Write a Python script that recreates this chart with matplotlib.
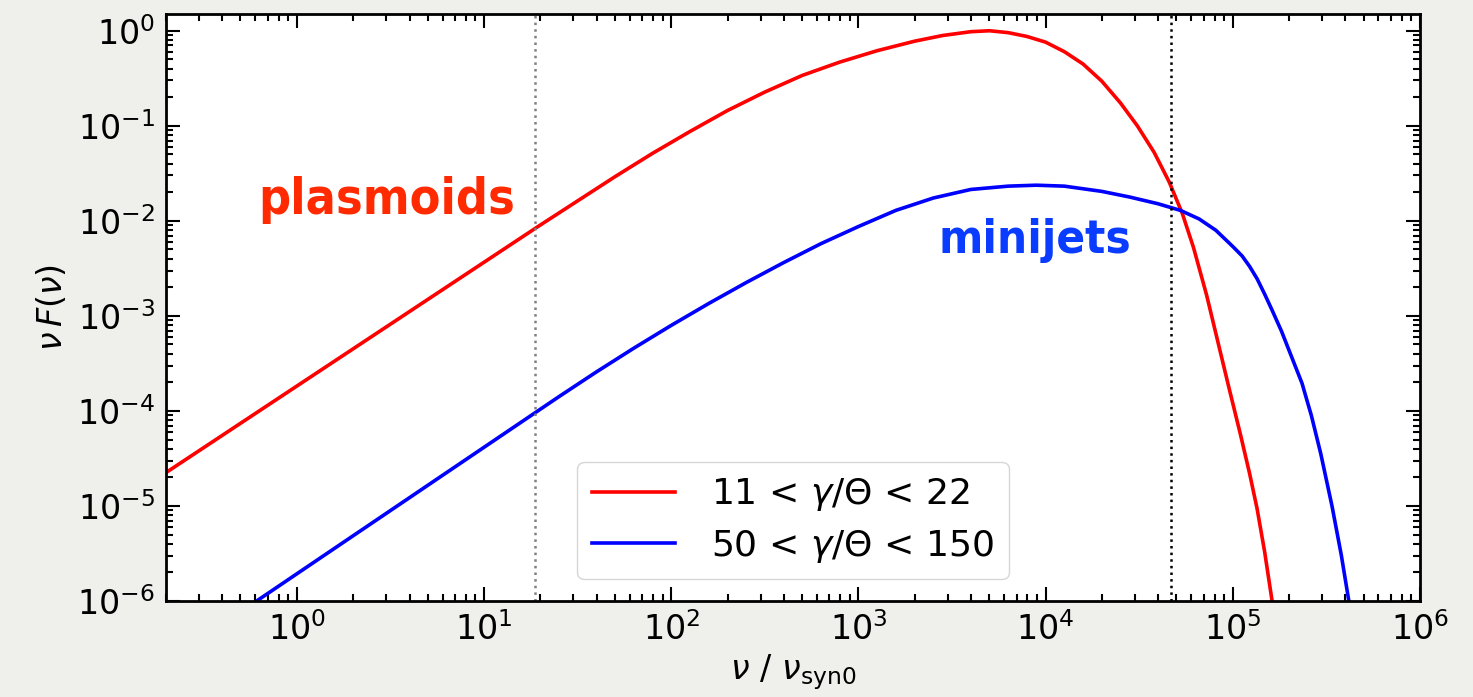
#!/usr/bin/env python
# coding: utf-8

r"""Synchrotron spectra of plasmoid- and minijet-dominated particles"""

import numpy as np
import matplotlib.pyplot as plt

# log10(nu / nu_syn0) and log10(nu F_nu) for the two populations
red_lognu = [-0.70, 1.30, 1.50, 1.70, 1.90, 2.10, 2.30, 2.50, 2.70, 2.90,
             3.10, 3.30, 3.45, 3.60, 3.70, 3.80, 3.90, 4.00, 4.10, 4.20,
             4.30, 4.40, 4.49, 4.58, 4.66, 4.73, 4.79, 4.86, 4.92, 4.98,
             5.04, 5.09, 5.13, 5.17, 5.21]
red_logf = [-4.65, -2.045, -1.79, -1.535, -1.29, -1.06, -0.84, -0.645, -0.47,
            -0.33, -0.21, -0.11, -0.05, -0.01, 0.0, -0.02, -0.06, -0.12,
            -0.22, -0.35, -0.53, -0.76, -1.00, -1.28, -1.59, -1.92, -2.28,
            -2.78, -3.27, -3.76, -4.24, -4.66, -5.03, -5.48, -6.0]

blue_lognu = [-0.215, 1.40, 1.60, 1.80, 2.00, 2.20, 2.40, 2.60, 2.80, 3.00,
              3.20, 3.40, 3.60, 3.80, 3.95, 4.10, 4.30, 4.45, 4.60, 4.72,
              4.82, 4.91, 5.00, 5.05, 5.09, 5.13, 5.17, 5.21, 5.26, 5.31,
              5.37, 5.42, 5.47, 5.53, 5.58, 5.62]
blue_logf = [-6.0, -3.85, -3.59, -3.34, -3.10, -2.87, -2.65, -2.44, -2.24,
             -2.06, -1.89, -1.76, -1.67, -1.635, -1.625, -1.635, -1.69, -1.75,
             -1.82, -1.89, -1.98, -2.10, -2.27, -2.37, -2.48, -2.61, -2.77,
             -2.94, -3.16, -3.41, -3.71, -4.05, -4.45, -5.00, -5.52, -6.0]

labels = [r'11 < $\gamma/\Theta$ < 22', r'50 < $\gamma/\Theta$ < 150']
nu_cool = 18.7      # gray dotted marker
nu_break = 4.65e4   # black dotted marker

fig = plt.figure(figsize=(14.73, 6.97), dpi=100, facecolor='#efefec')
ax = fig.add_axes([0.1127, 0.1377, 0.8513, 0.8422])
ax.set_facecolor('white')

ax.plot(10 ** np.array(red_lognu), 10 ** np.array(red_logf), color='red',
        lw=2.6, label=labels[0])
ax.plot(10 ** np.array(blue_lognu), 10 ** np.array(blue_logf), color='blue',
        lw=2.6, label=labels[1])
ax.axvline(nu_cool, color='gray', ls=':', lw=1.8)
ax.axvline(nu_break, color='black', ls=':', lw=1.8)

ax.set_xscale('log')
ax.set_yscale('log')
ax.set_xlim(0.2, 1e6)
ax.set_ylim(1e-6, 1.5)

ax.tick_params(which='both', direction='in', top=True, right=True,
               labelsize=24, width=1.5)
ax.tick_params(which='major', length=10, pad=8)
ax.tick_params(which='minor', length=5)
for sp in ax.spines.values():
    sp.set_linewidth(2)

ax.set_xlabel(r'$\nu\ /\ \nu_{\rm syn0}$', fontsize=24, labelpad=4)
ax.set_ylabel(r'$\nu\,F(\nu)$', fontsize=24, labelpad=6)

ax.legend(loc='lower center', fontsize=26, handlelength=2.3,
          handletextpad=1.0, labelspacing=0.4, borderaxespad=0.6)

ax.text(0.176, 0.683, 'plasmoids', transform=ax.transAxes, color='#ff2a00',
        fontsize=36, fontweight='bold', family='DejaVu Sans',
        fontstretch='condensed', ha='center', va='center')
ax.text(0.693, 0.615, 'minijets', transform=ax.transAxes, color='#0a3cff',
        fontsize=34, fontweight='bold', family='DejaVu Sans',
        fontstretch='condensed', ha='center', va='center')

fig.savefig('out.png', dpi=100, facecolor=fig.get_facecolor())
